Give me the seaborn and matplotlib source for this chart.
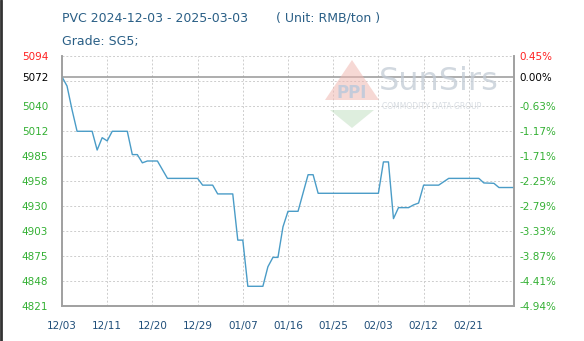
import numpy as np
import pandas as pd
import matplotlib
matplotlib.use("Agg")
import matplotlib.pyplot as plt
from matplotlib.patches import Polygon
from matplotlib.lines import Line2D
import seaborn as sns

# ---- data ----
days = [0, 1, 2, 3, 6, 7, 8, 9, 10, 13, 14, 15, 16, 17, 19, 21, 27, 28, 30, 31,
        34, 35, 36, 37, 40, 41, 42, 43, 44, 45, 47, 49, 50, 51, 63, 64, 65, 66,
        67, 69, 70, 71, 72, 75, 77, 83, 84, 86, 87, 90]
prices = [5072, 5062, 5036, 5012.5, 5012.5, 4992, 5005.5, 5002, 5012.5, 5012.5,
          4987, 4987, 4978, 4980, 4980, 4961, 4961, 4953.6, 4953.6, 4944,
          4944, 4893.5, 4893.5, 4843, 4843, 4864.4, 4874.6, 4874.6, 4908, 4925,
          4925, 4965, 4965, 4944.7, 4944.7, 4979, 4979, 4917,
          4929, 4929, 4932, 4934, 4953.6, 4953.6, 4961, 4961, 4956, 4955.6, 4951, 4951]
base_price = 5072
date_labels = ["12/03", "12/11", "12/20", "12/29", "01/07", "01/16", "01/25",
               "02/03", "02/12", "02/21"]
left_labels = ["5094", "5072", "5040", "5012", "4985", "4958", "4930", "4903",
               "4875", "4848", "4821"]
right_labels = ["0.45%", "0.00%", "-0.63%", "-1.17%", "-1.71%", "-2.25%", "-2.79%",
                "-3.33%", "-3.87%", "-4.41%", "-4.94%"]
pct_values = [0.45, 0.00, -0.63, -1.17, -1.71, -2.25, -2.79, -3.33, -3.87, -4.41, -4.94]

df = pd.DataFrame({"day": days, "price": prices})

sns.set_theme(style="white")
plt.rcParams["font.family"] = ["DejaVu Sans"]

fig = plt.figure(figsize=(5.84, 3.41), dpi=100)
ax = fig.add_axes([62 / 584, 1 - 306 / 341, (514 - 62) / 584, (306 - 56) / 341])

y_top = base_price * (1 + pct_values[0] / 100)
y_bot = base_price * (1 + pct_values[-1] / 100)
grid_levels = np.linspace(y_top, y_bot, 11)
tick_pos = [y_top, base_price] + list(grid_levels[2:])

sns.lineplot(data=df, x="day", y="price", ax=ax, color="#4a9cc7", linewidth=1.0, zorder=3)

ax.set_xlim(0, 90)
ax.set_ylim(y_bot, y_top)

# grid
for g in grid_levels:
    ax.axhline(g, color="#cdcdcd", lw=0.7, ls=(0, (2, 2)), zorder=0)
for d in range(0, 91, 9):
    ax.axvline(d, color="#cdcdcd", lw=0.7, ls=(0, (2, 2)), zorder=0)
ax.axhline(base_price, color="#a0a0a0", lw=1.2, zorder=1)

ax.set_xticks(list(range(0, 90, 9)))
ax.set_xticklabels(date_labels, color="#1f4e79", fontsize=7.5)
ax.set_yticks(tick_pos)
ax.set_yticklabels(left_labels, fontsize=7.5)
ax.tick_params(axis="x", length=0, pad=11)
ax.tick_params(axis="y", length=0, pad=10)
ax.set_xlabel("")
ax.set_ylabel("")

def color_for(i):
    if i == 0:
        return "#ff2020"
    if i == 1:
        return "#000000"
    return "#33b033"

for i, t in enumerate(ax.get_yticklabels()):
    t.set_color(color_for(i))

ax2 = ax.twinx()
ax2.set_ylim(y_bot, y_top)
ax2.set_yticks(tick_pos)
ax2.set_yticklabels(right_labels, fontsize=7.5)
ax2.tick_params(axis="y", length=0, pad=4)
for i, t in enumerate(ax2.get_yticklabels()):
    t.set_color(color_for(i))
ax2.grid(False)

for a in (ax, ax2):
    for s in ["left", "right", "bottom"]:
        a.spines[s].set_color("#a0a0a0")
        a.spines[s].set_linewidth(1.2)
    a.spines["top"].set_visible(False)

# titles
fig.text(62 / 584, 1 - 18 / 341, "PVC 2024-12-03 - 2025-03-03       ( Unit: RMB/ton )",
         color="#2a5f86", fontsize=9, va="center", ha="left")
fig.text(62 / 584, 1 - 42 / 341, "Grade: SG5;", color="#2a5f86", fontsize=9,
         va="center", ha="left")

# watermark
tri = Polygon([[325 / 584, 1 - 100 / 341], [352 / 584, 1 - 60 / 341], [379 / 584, 1 - 100 / 341]],
              closed=True, transform=fig.transFigure, facecolor="#f0b8b2", edgecolor="none",
              alpha=0.55, zorder=0.5)
fig.add_artist(tri)
tri2 = Polygon([[330 / 584, 1 - 110 / 341], [352 / 584, 1 - 128 / 341], [374 / 584, 1 - 110 / 341]],
               closed=True, transform=fig.transFigure, facecolor="#c4e0c4", edgecolor="none",
               alpha=0.55, zorder=0.5)
fig.add_artist(tri2)
fig.text(352 / 584, 1 - 93 / 341, "PPI", color="#b8c8dc", fontsize=12, fontweight="bold",
         ha="center", va="center", zorder=0.6, alpha=0.8)
fig.text(379 / 584, 1 - 82 / 341, "SunSirs", color="#c2cbd5", fontsize=23,
         ha="left", va="center", zorder=0.6, alpha=0.75)
fig.text(382 / 584, 1 - 107 / 341, "COMMODITY DATA GROUP", color="#cfd5dc", fontsize=5.5,
         ha="left", va="center", zorder=0.6, alpha=0.8)

# screenshot edge
fig.add_artist(Line2D([0.002, 0.002], [0, 1], transform=fig.transFigure, color="#333333", lw=2))

fig.savefig("out.png", dpi=100, facecolor="white")
